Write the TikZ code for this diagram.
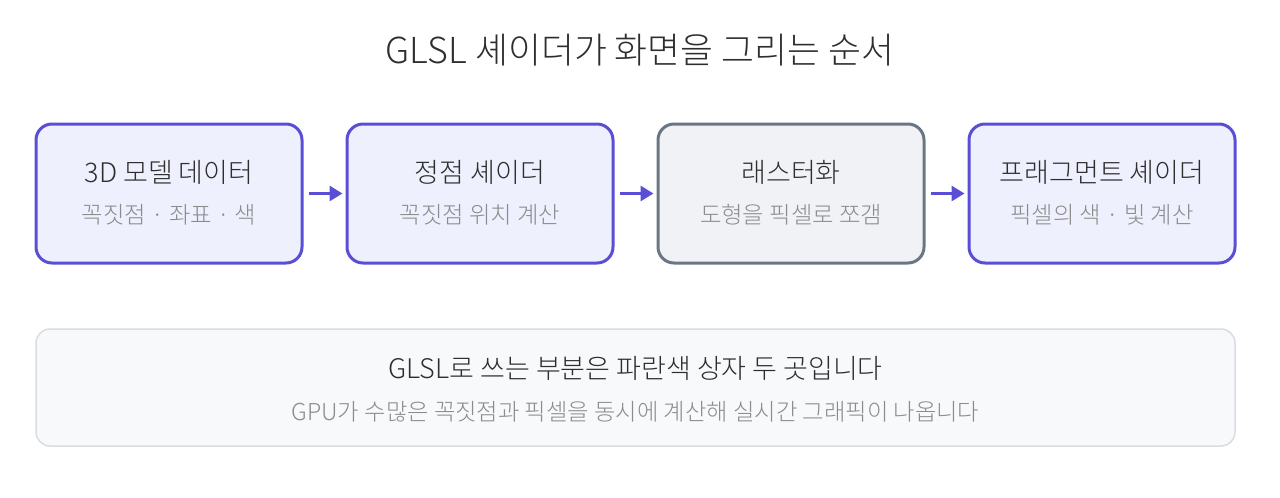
\documentclass[tikz,border=0pt]{standalone}
\usepackage{fontspec}
\setmainfont{Noto Sans CJK KR}[UprightFont=* Light]
\usepackage{xcolor}
\usepackage{tikz}
\usetikzlibrary{arrows.meta,positioning}

\definecolor{shaderline}{HTML}{5A4FD4}
\definecolor{shaderfill}{HTML}{EEF0FD}
\definecolor{fixedline}{HTML}{6B7684}
\definecolor{fixedfill}{HTML}{F0F2F6}
\definecolor{noteline}{HTML}{D9DDE2}
\definecolor{notefill}{HTML}{F8F9FB}
\definecolor{headtext}{HTML}{2E2E2E}
\definecolor{subtext}{HTML}{8C8C8C}

\begin{document}
\begin{tikzpicture}[
			x=1pt, y=-1pt,
			>=Stealth,
			stage/.style={rounded corners=16pt, line width=3pt, minimum width=266pt, minimum height=139pt},
			shader/.style={stage, draw=shaderline, fill=shaderfill},
			fixed/.style={stage, draw=fixedline, fill=fixedfill},
			head/.style={font=\fontsize{27}{31}\selectfont, text=headtext},
			sub/.style={font=\fontsize{23.3}{27}\selectfont, text=subtext},
			flow/.style={-{Triangle[length=13pt,width=15pt]}, line width=3pt, draw=shaderline}
			]
			\useasboundingbox (0,0) rectangle (1280,498);
			
			\node[font=\fontsize{35.8}{41}\selectfont, text=headtext] (title) at (640,50) {GLSL 셰이더가 화면을 그리는 순서};
			
			\node[shader] (model) at (169,193.5) {};
			\node[shader] (vertex) at (480,193.5) {};
			\node[fixed] (raster) at (791,193.5) {};
			\node[shader] (fragment) at (1102,193.5) {};
			
			\node[head] at (169,172) {3D 모델 데이터};
			\node[sub] at (169,215) {꼭짓점 · 좌표 · 색};
			\node[head] at (480,172) {정점 셰이더};
			\node[sub] at (480,215) {꼭짓점 위치 계산};
			\node[head] at (791,172) {래스터화};
			\node[sub] at (791,215) {도형을 픽셀로 쪼갬};
			\node[head] at (1102,172) {프래그먼트 셰이더};
			\node[sub] at (1102,215) {픽셀의 색 · 빛 계산};
			
			\draw[flow] ([xshift=5pt]model.east) -- ([xshift=-3pt]vertex.west);
			\draw[flow] ([xshift=5pt]vertex.east) -- ([xshift=-3pt]raster.west);
			\draw[flow] ([xshift=5pt]raster.east) -- ([xshift=-3pt]fragment.west);
			
			\node[draw=noteline, fill=notefill, line width=1.5pt, rounded corners=14pt, minimum width=1199pt, minimum height=117pt] (note) at (635.5,387.5) {};
			\node[head] at (635.5,368) {GLSL로 쓰는 부분은 파란색 상자 두 곳입니다};
			\node[sub] at (635.5,412) {GPU가 수많은 꼭짓점과 픽셀을 동시에 계산해 실시간 그래픽이 나옵니다};
		\end{tikzpicture}
\end{document}
